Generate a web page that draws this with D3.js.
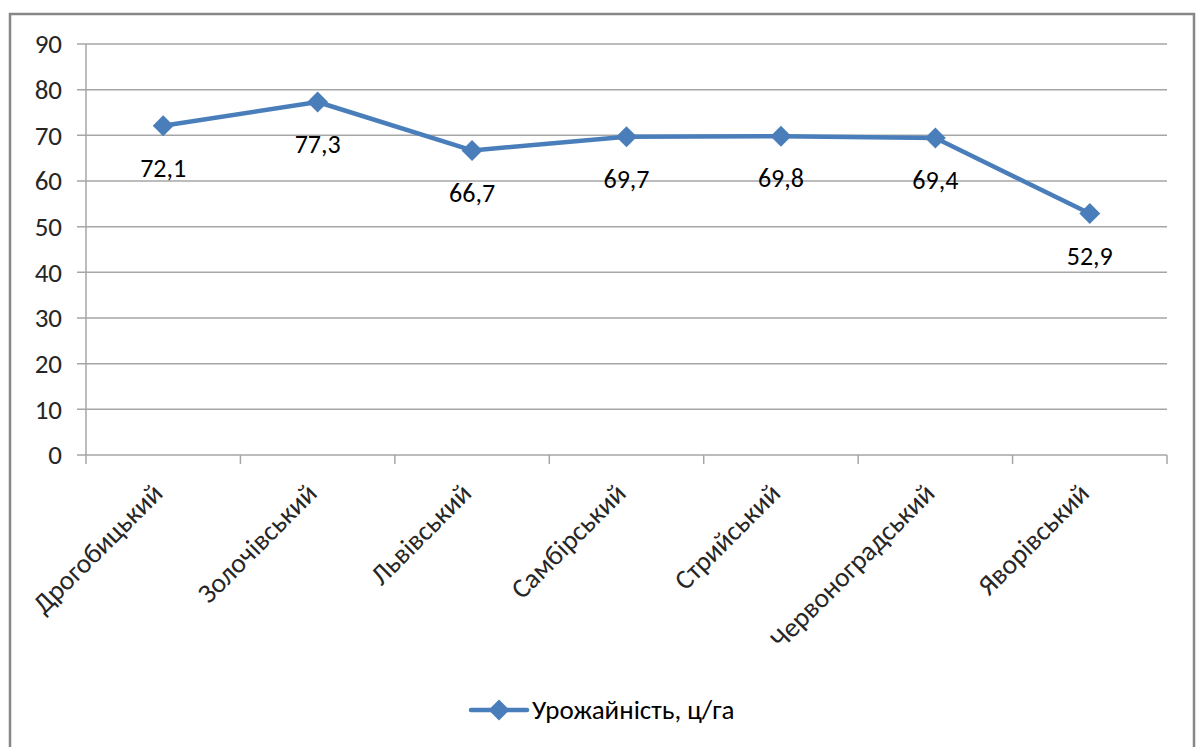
<!DOCTYPE html>
<html><head><meta charset="utf-8">
<script src="https://cdn.jsdelivr.net/npm/d3@7"></script>
<style>body{margin:0;background:#fff;} text{font-family:Carlito,Lato,"Open Sans",sans-serif;}</style>
</head><body><svg id="c" width="1197" height="747"></svg>
<script>
const categories = ["Дрогобицький","Золочівський","Львівський","Самбірський","Стрийський","Червоноградський","Яворівський"];
const values = [72.1, 77.3, 66.7, 69.7, 69.8, 69.4, 52.9];
const yTicks = [0,10,20,30,40,50,60,70,80,90];
const seriesName = "Урожайність, ц/га";

(function(){
const svg = d3.select("#c");
const color = "#4a7ebb";
const fs = 26;

svg.append("rect").attr("x",10).attr("y",14).attr("width",1184).attr("height",740)
  .attr("fill","#fff").attr("stroke","#878787").attr("stroke-width",2.5);

const pL = 86, pR = 1167, pT = 44, pB = 455;
const x = d3.scaleBand().domain(categories).range([pL, pR]);
const y = d3.scaleLinear().domain([0, 90]).range([pB, pT]);

svg.append("g").selectAll("line").data(yTicks).join("line")
  .attr("x1", pL - 9).attr("x2", pR)
  .attr("y1", d => y(d)).attr("y2", d => y(d))
  .attr("stroke", "#a6a6a6").attr("stroke-width", 1.5);

svg.append("line").attr("x1",pL).attr("x2",pL).attr("y1",pT).attr("y2",pB)
  .attr("stroke","#a6a6a6").attr("stroke-width",1.5);

svg.append("g").selectAll("text").data(yTicks).join("text")
  .attr("x", 62).attr("y", d => y(d)).attr("dy","0.35em")
  .attr("text-anchor","end").attr("font-size",fs+1).attr("fill","#262626")
  .text(d => d);

const bounds = categories.map(c => x(c)).concat([pR]);
svg.append("g").selectAll("line").data(bounds).join("line")
  .attr("x1", d => d).attr("x2", d => d).attr("y1", pB).attr("y2", pB + 9)
  .attr("stroke","#a6a6a6").attr("stroke-width",1.5);

svg.append("g").selectAll("text").data(categories).join("text")
  .attr("transform", d => `translate(${x(d) + x.bandwidth()/2 + 1},${pB + 40}) rotate(-45)`)
  .attr("text-anchor","end").attr("font-size",27.5).attr("fill","#262626")
  .text(d => d);

const line = d3.line().x((d,i) => x(categories[i]) + x.bandwidth()/2).y(d => y(d));
svg.append("path").datum(values).attr("d", line).attr("fill","none")
  .attr("stroke", color).attr("stroke-width", 4.5).attr("stroke-linejoin","round");

const diamond = d3.symbol().type(d3.symbolDiamond2).size(280);
svg.append("g").selectAll("path").data(values).join("path")
  .attr("d", diamond)
  .attr("transform", (d,i) => `translate(${x(categories[i]) + x.bandwidth()/2},${y(d)})`)
  .attr("fill", color);

svg.append("g").selectAll("text").data(values).join("text")
  .attr("x", (d,i) => x(categories[i]) + x.bandwidth()/2)
  .attr("y", d => y(d) + 42).attr("dy","0.35em")
  .attr("text-anchor","middle").attr("font-size",fs).attr("fill","#000")
  .text(d => d.toFixed(1).replace(".", ","));

const ly = 710;
svg.append("line").attr("x1",471).attr("x2",527).attr("y1",ly).attr("y2",ly)
  .attr("stroke",color).attr("stroke-width",4.5).attr("stroke-linecap","round");
svg.append("path").attr("d", diamond).attr("transform",`translate(499,${ly})`).attr("fill",color);
svg.append("text").attr("x",532).attr("y",ly).attr("dy","0.35em")
  .attr("font-size",fs+1).attr("fill","#000").text(seriesName);
})();
</script></body></html>
